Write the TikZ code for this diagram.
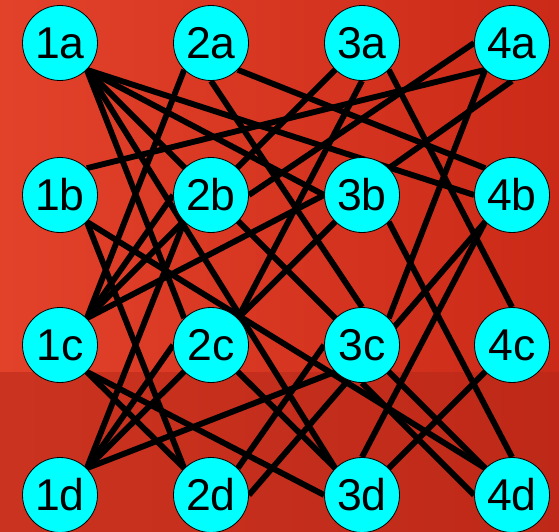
\documentclass[tikz,border=0pt]{standalone}
\usepackage{fontspec}
\setmainfont{Liberation Sans}
\pgfdeclarelayer{bg}
\pgfdeclarelayer{edges}
\pgfsetlayers{bg,edges,main}
\definecolor{bgleft}{RGB}{226,66,42}
\definecolor{bgright}{RGB}{203,42,24}
\definecolor{bgbot}{RGB}{182,40,24}
\definecolor{nodecyan}{RGB}{0,255,255}
\tikzset{
  vert/.style={circle, draw=black, line width=0.7pt, fill=nodecyan, minimum size=2.25cm, inner sep=0pt,
    font=\fontsize{38}{38}\selectfont},
  edge/.style={draw=black, line width=5pt}
}
\begin{document}
\begin{tikzpicture}[x=0.03cm,y=-0.03cm]
\begin{pgfonlayer}{bg}
\shade[left color=bgleft, right color=bgright] (0,0) rectangle (559,532);
\fill[bgbot, opacity=0.55] (0,372) rectangle (559,532);
\end{pgfonlayer}
\useasboundingbox (0,0) rectangle (559,532);
\foreach \c/\x in {1/60,2/211,3/362,4/512}{
  \foreach \r/\y in {a/43,b/195,c/345,d/495}{
    \node[vert] (\c\r) at (\x,\y) {\c\r};
  }
}
\begin{pgfonlayer}{edges}
\draw[edge] (1a.south east) -- (4b.west);
\draw[edge] (1a.south east) -- (4d.north west);
\draw[edge] (1a.south east) -- (2c.north west);
\draw[edge] (1a.south east) -- (3d.north west);
\draw[edge] (1a.south east) -- (3b.west);
\draw[edge] (2a.south east) -- (4b.north west);
\draw[edge] (2a.south west) -- (1c.north east);
\draw[edge] (2a.south) -- (3c.north);
\draw[edge] (3a.south west) -- (1c.north east);
\draw[edge] (3a.south) -- (2c.north east);
\draw[edge] (3a.south east) -- (4c.north);
\draw[edge] (4a.west) -- (2b.east);
\draw[edge] (4a.south west) -- (1b.north east);
\draw[edge] (4a.south west) -- (3c.north east);
\draw[edge] (4a.south) -- (3b.north east);
\draw[edge] (1b.south east) -- (2d.north west);
\draw[edge] (1b.south east) -- (4d.north west);
\draw[edge] (2b.south west) -- (1d.north east);
\draw[edge] (2b.west) -- (1c.north east);
\draw[edge] (3b.west) -- (1c.north east);
\draw[edge] (3b.south west) -- (1d.north east);
\draw[edge] (3b.south east) -- (4d.north);
\draw[edge] (1c.south east) -- (3d.west);
\draw[edge] (1c.south east) -- (2d.north west);
\draw[edge] (1d.north east) -- (3c.south west);
\draw[edge] (1d.north east) -- (2c.west);
\draw[edge] (2c.south east) -- (3d.north west);
\draw[edge] (3c.south) -- (4d.west);
\draw[edge] (4b.south west) -- (3d.north);
\draw[edge] (3d.north east) -- (4c.south west);
\draw[edge] (2d.north east) -- (3c.west);
\draw[edge] (2d.east) -- (4b.south west);
\end{pgfonlayer}
\end{tikzpicture}
\end{document}
